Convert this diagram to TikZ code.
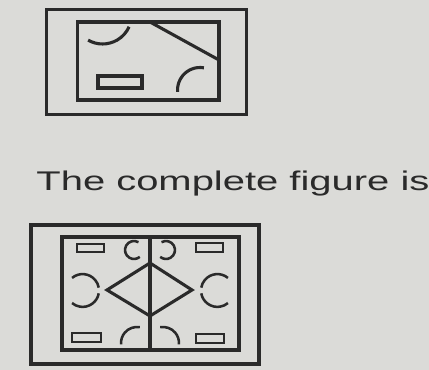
\documentclass[tikz,border=0pt]{standalone}
\usepackage{fontspec}
\setmainfont{Liberation Sans}
\usepackage{tikz}
\usetikzlibrary{positioning}
\definecolor{pgpaper}{RGB}{219,219,216}
\definecolor{pgink}{RGB}{42,42,42}

\begin{document}
\begin{tikzpicture}[scale=0.25,
    frameline/.style={pgink, line width=2.6pt},
    partline/.style={pgink, line width=2.2pt},
    smallline/.style={pgink, line width=1.8pt}]
  % Paper
  \fill[pgpaper] (0,0) rectangle (42.9,37);
  \useasboundingbox (0,0) rectangle (42.9,37);
  % Question figure
  \draw[frameline] (4.65,36.05) rectangle (24.65,25.55);
  \draw[frameline] (7.75,34.8) rectangle (21.9,27.0);
  \draw[partline] (15.0,34.8) -- (21.9,31.0);
  \draw[partline] (10.26,35.5) ++(240:2.9) arc[start angle=240, end angle=336, radius=2.9];
  \draw[partline] (9.8,29.4) rectangle (14.2,28.2);
  \draw[partline] (20.0,28.0) ++(80:2.25) arc[start angle=80, end angle=185, radius=2.25];
  % Caption
  \node[pgink, font=\fontsize{19.2}{22}\selectfont, xscale=1.48, inner sep=0pt,
        anchor=base west] (caption) at (3.6,17.9) {The complete figure is};
  % Answer figure
  \draw[frameline] (3.1,14.5) rectangle (25.9,0.6);
  \draw[partline] (6.2,13.3) rectangle (23.9,2.0);
  \draw[partline] (15.0,13.3) -- (15.0,2.0);
  \draw[partline] (10.7,8.0) -- (15.0,10.7) -- (19.2,8.0) -- (15.0,5.4) -- cycle;
  % Corner rectangles
  \draw[smallline] (7.7,12.6) rectangle (10.4,11.8);
  \draw[smallline] (19.6,12.7) rectangle (22.3,11.8);
  \draw[smallline] (7.2,3.7) rectangle (10.1,2.8);
  \draw[smallline] (19.6,3.6) rectangle (22.4,2.7);
  % Top arcs
  \draw[smallline] (13.4,12.0) ++(60:0.9) arc[start angle=60, end angle=310, radius=0.9];
  \draw[smallline] (16.6,12.0) ++(120:0.9) arc[start angle=120, end angle=-130, radius=0.9];
  % Side arcs
  \draw[smallline] (8.26,7.95) ++(130:1.64) arc[start angle=130, end angle=10, radius=1.64];
  \draw[smallline] (8.26,7.95) ++(-10:1.64) arc[start angle=-10, end angle=-130, radius=1.64];
  \draw[smallline] (21.74,7.95) ++(50:1.64) arc[start angle=50, end angle=170, radius=1.64];
  \draw[smallline] (21.74,7.95) ++(190:1.64) arc[start angle=190, end angle=310, radius=1.64];
  % Bottom arcs
  \draw[smallline] (13.7,2.7) ++(80:1.6) arc[start angle=80, end angle=185, radius=1.6];
  \draw[smallline] (16.3,2.7) ++(100:1.6) arc[start angle=100, end angle=-5, radius=1.6];
\end{tikzpicture}
\end{document}
